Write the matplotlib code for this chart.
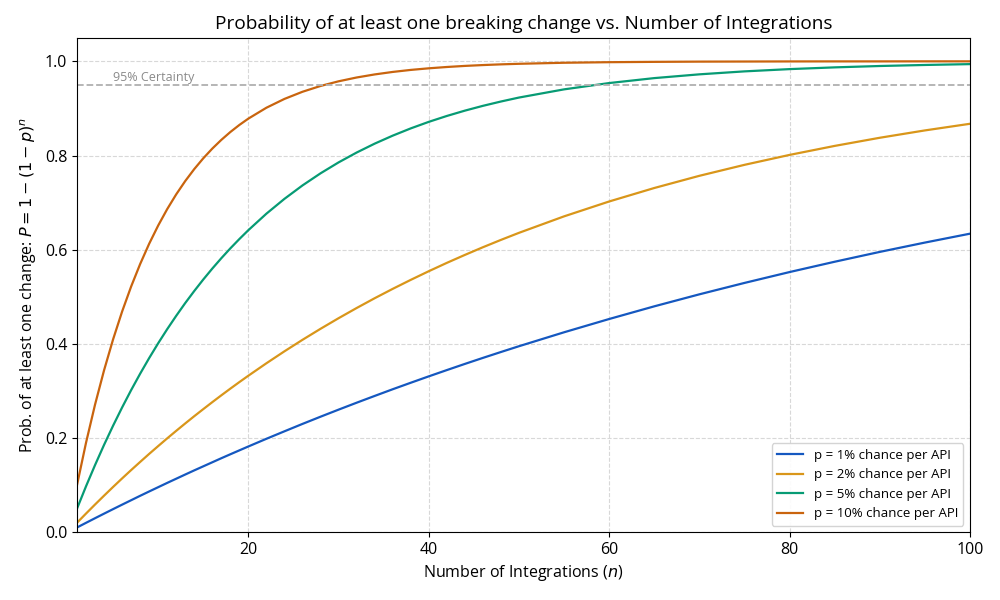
import matplotlib
matplotlib.use("Agg")
import matplotlib.pyplot as plt

# number of integrations (n) at which the curves were read
n_vals = (list(range(1, 21)) + list(range(22, 51, 2)) + list(range(55, 101, 5)))

p1 = [0.0100, 0.0199, 0.0297, 0.0394, 0.0490, 0.0585, 0.0679, 0.0773, 0.0865, 0.0956,
      0.1047, 0.1136, 0.1225, 0.1313, 0.1399, 0.1485, 0.1571, 0.1655, 0.1738, 0.1821,
      0.1984, 0.2143, 0.2300, 0.2453, 0.2603, 0.2750, 0.2894, 0.3036, 0.3174, 0.3310,
      0.3443, 0.3574, 0.3702, 0.3827, 0.3950,
      0.4246, 0.4528, 0.4797, 0.5052, 0.5294, 0.5525, 0.5744, 0.5953, 0.6151, 0.6340]
p2 = [0.0200, 0.0396, 0.0588, 0.0776, 0.0961, 0.1142, 0.1319, 0.1492, 0.1663, 0.1829,
      0.1993, 0.2153, 0.2310, 0.2464, 0.2614, 0.2762, 0.2907, 0.3049, 0.3188, 0.3324,
      0.3588, 0.3842, 0.4086, 0.4320, 0.4545, 0.4761, 0.4969, 0.5168, 0.5359, 0.5543,
      0.5720, 0.5889, 0.6052, 0.6208, 0.6358,
      0.6708, 0.7024, 0.7310, 0.7569, 0.7802, 0.8013, 0.8204, 0.8377, 0.8533, 0.8674]
p5 = [0.0500, 0.0975, 0.1426, 0.1855, 0.2262, 0.2649, 0.3017, 0.3366, 0.3698, 0.4013,
      0.4312, 0.4596, 0.4867, 0.5123, 0.5367, 0.5599, 0.5819, 0.6028, 0.6226, 0.6415,
      0.6765, 0.7080, 0.7365, 0.7622, 0.7854, 0.8063, 0.8252, 0.8422, 0.8576, 0.8715,
      0.8840, 0.8953, 0.9055, 0.9147, 0.9231,
      0.9405, 0.9539, 0.9644, 0.9724, 0.9787, 0.9835, 0.9872, 0.9901, 0.9923, 0.9941]
p10 = [0.1000, 0.1900, 0.2710, 0.3439, 0.4095, 0.4686, 0.5217, 0.5695, 0.6126, 0.6513,
       0.6862, 0.7176, 0.7458, 0.7712, 0.7941, 0.8147, 0.8332, 0.8499, 0.8649, 0.8784,
       0.9015, 0.9202, 0.9354, 0.9477, 0.9576, 0.9657, 0.9722, 0.9775, 0.9818, 0.9852,
       0.9880, 0.9903, 0.9921, 0.9936, 0.9948,
       0.9970, 0.9982, 0.9989, 0.9994, 0.9996, 0.9998, 0.9999, 0.9999, 1.0000, 1.0000]

series = [p1, p2, p5, p10]
labels = ["p = 1% chance per API", "p = 2% chance per API",
          "p = 5% chance per API", "p = 10% chance per API"]
colors = ["#1558c0", "#d9961a", "#079b74", "#c9640e"]

plt.rcParams["font.family"] = ["Open Sans", "DejaVu Sans"]

fig, ax = plt.subplots(figsize=(10, 6), dpi=100)
for ys, lab, c in zip(series, labels, colors):
    ax.plot(n_vals, ys, color=c, lw=1.6, label=lab)

ax.axhline(0.95, ls="--", color="#b0b0b0", lw=1.3)
ax.text(5, 0.958, "95% Certainty", color="#8a8a8a", fontsize=9)

ax.set_xlim(1, 100)
ax.set_ylim(0, 1.05)
ax.set_xticks([20, 40, 60, 80, 100])
ax.set_yticks([0, 0.2, 0.4, 0.6, 0.8, 1.0])
ax.tick_params(labelsize=11.5)
ax.grid(ls="--", color="#d8d8d8", lw=0.8)
ax.set_axisbelow(True)

ax.set_xlabel("Number of Integrations ($n$)", fontsize=11.5)
ax.set_ylabel("Prob. of at least one change: $P = 1 - (1 - p)^n$", fontsize=11.5)
ax.set_title("Probability of at least one breaking change vs. Number of Integrations",
             fontsize=13.7)
ax.legend(loc="lower right", fontsize=9.5, framealpha=0.9, edgecolor="#d0d0d0")

plt.subplots_adjust(left=0.077, right=0.97, top=0.937, bottom=0.113)
plt.savefig("out.png", dpi=100)
